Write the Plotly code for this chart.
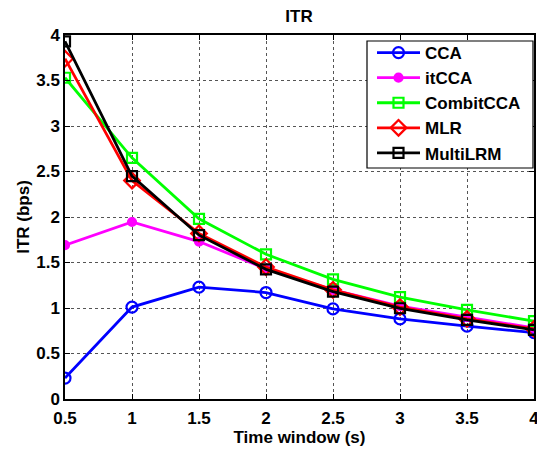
import plotly.graph_objects as go

time_window = [0.5, 1, 1.5, 2, 2.5, 3, 3.5, 4]
cca = [0.23, 1.01, 1.23, 1.17, 0.99, 0.88, 0.80, 0.73]
itcca = [1.69, 1.945, 1.73, 1.43, 1.20, 1.02, 0.90, 0.78]
combitcca = [3.53, 2.65, 1.98, 1.59, 1.315, 1.12, 0.98, 0.855]
mlr = [3.74, 2.40, 1.82, 1.45, 1.20, 1.01, 0.88, 0.77]
multilrm = [3.93, 2.45, 1.80, 1.425, 1.18, 0.997, 0.87, 0.76]

x_ticks = [0.5, 1, 1.5, 2, 2.5, 3, 3.5, 4]
x_tick_labels = ["0.5", "1", "1.5", "2", "2.5", "3", "3.5", "4"]
y_ticks = [0, 0.5, 1, 1.5, 2, 2.5, 3, 3.5, 4]
y_tick_labels = ["0", "0.5", "1", "1.5", "2", "2.5", "3", "3.5", "4"]

FONT = "Liberation Sans, Arial, sans-serif"
FS = 17

# page body has an 8px margin; figure sized to fit the 545x451 window
W, H = 537, 443
ML, MR, MT, MB = 57, 11, 27, 52
PW, PH = W - ML - MR, H - MT - MB

series = [
    ("CCA", cca, "#0000ff", "circle-open", 11),
    ("itCCA", itcca, "#ff00ff", "circle", 8),
    ("CombitCCA", combitcca, "#00ff00", "square-open", 10),
    ("MLR", mlr, "#ff0000", "diamond-open", 12),
    ("MultiLRM", multilrm, "#000000", "square-open", 10),
]

fig = go.Figure()
for name, vals, color, sym, size in series:
    fig.add_trace(go.Scatter(
        x=time_window, y=vals, name=name, mode="lines+markers",
        line=dict(color=color, width=2.8),
        marker=dict(symbol=sym, size=size, color=color,
                    line=dict(color=color, width=2.2)),
    ))

axis_common = dict(
    showline=True, linecolor="black", linewidth=1.5, mirror="ticks",
    ticks="inside", ticklen=5, tickcolor="black",
    showgrid=True, gridcolor="#555555", griddash="dot", gridwidth=1,
    zeroline=False, automargin=False,
    tickfont=dict(family=FONT, size=FS, color="black", weight="bold"),
)

# legend frame (pixel box in figure coords)
bx0, bx1, by0, by1 = 359, 525, 33, 160
fig.add_shape(type="rect", xref="paper", yref="paper", layer="above",
              x0=(bx0 - ML) / PW, x1=(bx1 - ML) / PW,
              y0=(H - MB - by1) / PH, y1=(H - MB - by0) / PH,
              line=dict(color="black", width=1.2), fillcolor="white")

fig.update_layout(
    width=W, height=H,
    margin=dict(l=ML, r=MR, t=MT, b=MB),
    paper_bgcolor="white", plot_bgcolor="white",
    title=dict(text="ITR", x=291 / W, xanchor="center", y=1 - 2 / H, yanchor="top",
               pad=dict(t=0, b=0),
               font=dict(family=FONT, size=FS, color="black", weight="bold")),
    xaxis=dict(range=[0.5, 4], tickvals=x_ticks, ticktext=x_tick_labels,
               ticklabelstandoff=3,
               title=dict(text="Time window (s)", standoff=0,
                          font=dict(family=FONT, size=FS, color="black", weight="bold")),
               **axis_common),
    yaxis=dict(range=[0, 4], tickvals=y_ticks, ticktext=y_tick_labels,
               title=dict(text="ITR (bps)", standoff=2,
                          font=dict(family=FONT, size=FS, color="black", weight="bold")),
               **axis_common),
    legend=dict(x=(364 - ML) / PW, xanchor="left", y=(H - MB - 27) / PH, yanchor="top",
                bgcolor="rgba(0,0,0,0)", borderwidth=0,
                font=dict(family=FONT, size=FS, color="black", weight="bold"),
                itemwidth=43, tracegroupgap=0),
    showlegend=True,
)

fig.write_html("out.html")
